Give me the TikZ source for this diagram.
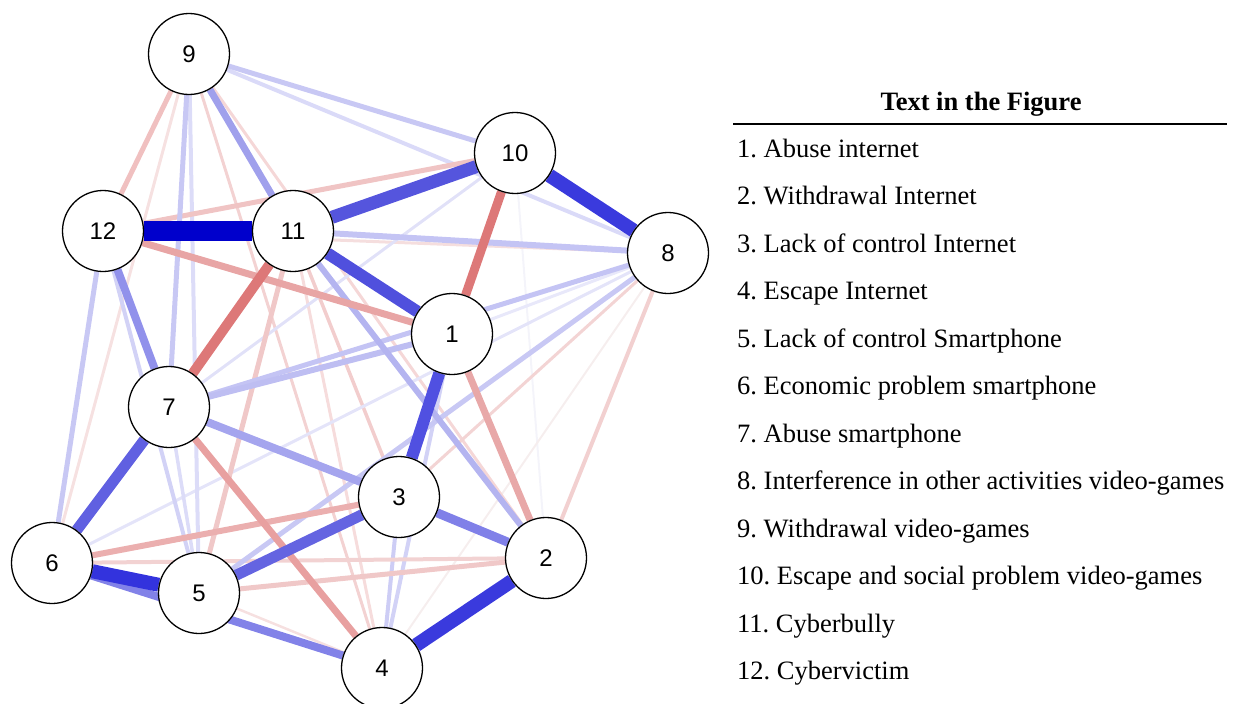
\documentclass[tikz,border=0pt]{standalone}
\usepackage{fontspec}
\setmainfont{Liberation Serif}
\newfontfamily\nodefont{Liberation Sans}
\pgfdeclarelayer{bg}
\pgfsetlayers{bg,main}
\newcommand\edg[4]{\draw[line width=#4pt, draw={rgb,255:#3}] (#1) -- (#2);}
\frenchspacing
\begin{document}
\begin{tikzpicture}[x=1pt,y=-1pt,
  nd/.style={circle, draw=black, line width=1.3pt, fill=white, minimum size=81pt, inner sep=0pt, font=\nodefont\fontsize{24}{27}\selectfont},
  leg/.style={anchor=base west, inner sep=0pt, font=\fontsize{26.5}{30}\selectfont},
  ttl/.style={anchor=base, inner sep=0pt, font=\bfseries\fontsize{26.5}{30}\selectfont}]
\useasboundingbox (0,0) rectangle (1235,704);
% nodes
\node[nd] (n9) at (189,54) {9};
\node[nd] (n10) at (515,153) {10};
\node[nd] (n12) at (103,231) {12};
\node[nd] (n11) at (293,231) {11};
\node[nd] (n8) at (668,253) {8};
\node[nd] (n1) at (452,334) {1};
\node[nd] (n7) at (169,407) {7};
\node[nd] (n3) at (399,497) {3};
\node[nd] (n2) at (546,558) {2};
\node[nd] (n6) at (52,563) {6};
\node[nd] (n5) at (199,593) {5};
\node[nd] (n4) at (382,668) {4};
\begin{pgfonlayer}{bg}
% faint edges
\edg{n10}{n2}{red,244;green,244;blue,250}{2}
\edg{n8}{n4}{red,246;green,238;blue,238}{2}
\edg{n5}{n4}{red,246;green,224;blue,224}{2.5}
\edg{n11}{n4}{red,246;green,220;blue,220}{3}
\edg{n9}{n2}{red,245;green,215;blue,215}{3}
\edg{n9}{n6}{red,246;green,225;blue,225}{3}
\edg{n12}{n8}{red,245;green,222;blue,222}{3}
\edg{n8}{n3}{red,243;green,212;blue,212}{3}
\edg{n11}{n3}{red,242;green,205;blue,205}{3.5}
\edg{n9}{n4}{red,243;green,210;blue,210}{3}
\edg{n1}{n8}{red,232;green,232;blue,250}{3}
\edg{n10}{n7}{red,225;green,225;blue,248}{3}
\edg{n6}{n8}{red,228;green,228;blue,249}{3}
\edg{n7}{n5}{red,220;green,220;blue,248}{3.5}
\edg{n9}{n5}{red,220;green,220;blue,248}{4}
\edg{n1}{n4}{red,210;green,210;blue,246}{4}
\edg{n3}{n4}{red,205;green,205;blue,245}{4}
\edg{n12}{n5}{red,210;green,210;blue,246}{4}
\edg{n9}{n8}{red,218;green,218;blue,248}{4}
% light edges
\edg{n6}{n2}{red,242;green,210;blue,210}{4}
\edg{n8}{n2}{red,242;green,208;blue,208}{4}
\edg{n5}{n2}{red,240;green,200;blue,200}{5}
\edg{n5}{n11}{red,240;green,200;blue,200}{5}
\edg{n9}{n12}{red,240;green,192;blue,192}{5}
\edg{n12}{n10}{red,240;green,196;blue,196}{5}
\edg{n9}{n10}{red,200;green,200;blue,244}{5}
\edg{n5}{n8}{red,200;green,200;blue,244}{5}
\edg{n9}{n7}{red,200;green,200;blue,244}{5}
\edg{n12}{n6}{red,200;green,200;blue,244}{5}
\edg{n7}{n8}{red,196;green,196;blue,244}{5}
% medium edges
\edg{n6}{n3}{red,235;green,175;blue,175}{6}
\edg{n11}{n8}{red,196;green,196;blue,244}{6}
\edg{n7}{n1}{red,190;green,190;blue,242}{6}
\edg{n11}{n2}{red,180;green,180;blue,240}{6}
\edg{n12}{n1}{red,232;green,165;blue,165}{7}
\edg{n1}{n2}{red,232;green,168;blue,168}{7}
\edg{n7}{n4}{red,232;green,160;blue,160}{7}
\edg{n9}{n11}{red,160;green,160;blue,236}{7}
\edg{n7}{n3}{red,165;green,165;blue,238}{8}
\edg{n12}{n7}{red,145;green,145;blue,235}{8}
\edg{n6}{n4}{red,130;green,130;blue,232}{8}
\edg{n10}{n1}{red,221;green,120;blue,120}{9}
\edg{n3}{n2}{red,128;green,128;blue,232}{9}
\edg{n11}{n7}{red,221;green,120;blue,120}{10}
% strong edges
\edg{n7}{n6}{red,96;green,96;blue,225}{11}
\edg{n5}{n3}{red,100;green,100;blue,225}{11}
\edg{n11}{n1}{red,80;green,80;blue,221}{12}
\edg{n1}{n3}{red,80;green,80;blue,225}{12}
\edg{n11}{n10}{red,85;green,85;blue,221}{13}
\edg{n10}{n8}{red,58;green,58;blue,221}{14}
\edg{n4}{n2}{red,58;green,58;blue,221}{14}
\edg{n6}{n5}{red,51;green,51;blue,221}{14}
\edg{n12}{n11}{red,0;green,0;blue,204}{20}
\end{pgfonlayer}
% legend
\node[ttl] (title) at (981,110) {Text in the Figure};
\coordinate (rl) at (733,124);
\coordinate (rr) at (1227,124);
\draw[line width=1.3pt] (rl) -- (rr);
\node[leg] (l1) at (737,157) {1. Abuse internet};
\node[leg] (l2) at (737,204.5) {2. Withdrawal Internet};
\node[leg] (l3) at (737,252) {3. Lack of control Internet};
\node[leg] (l4) at (737,299.5) {4. Escape Internet};
\node[leg] (l5) at (737,347) {5. Lack of control Smartphone};
\node[leg] (l6) at (737,394.5) {6. Economic problem smartphone};
\node[leg] (l7) at (737,442) {7. Abuse smartphone};
\node[leg] (l8) at (737,489.5) {8. Interference in other activities video-games};
\node[leg] (l9) at (737,537) {9. Withdrawal video-games};
\node[leg] (l10) at (737,584.5) {10. Escape and social problem video-games};
\node[leg] (l11) at (737,632) {11. Cyberbully};
\node[leg] (l12) at (737,679.5) {12. Cybervictim};
\end{tikzpicture}
\end{document}
